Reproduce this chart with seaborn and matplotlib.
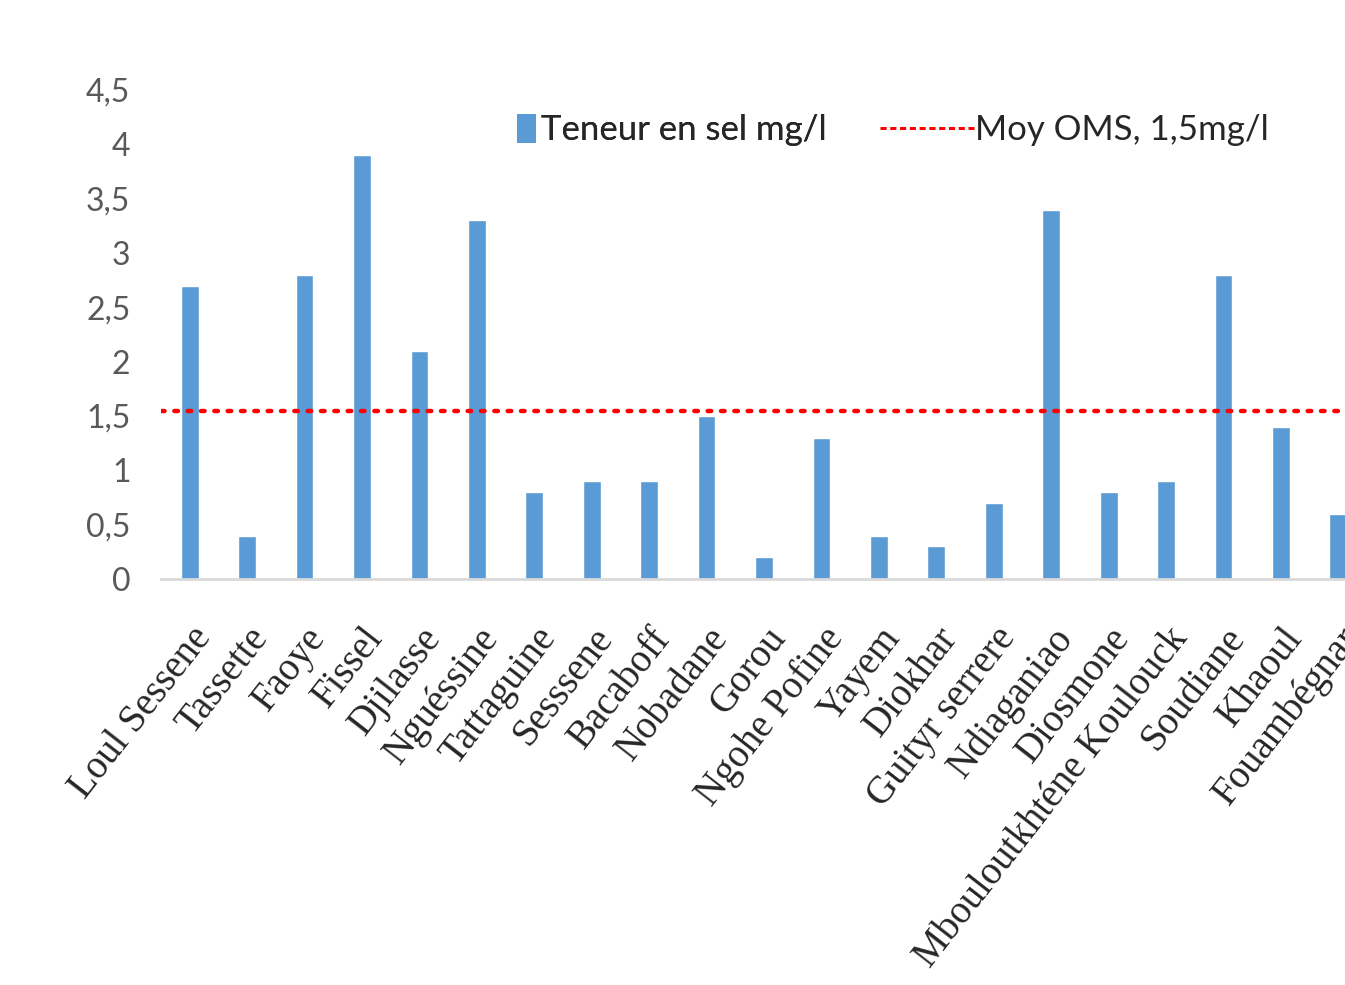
import matplotlib
matplotlib.use("Agg")
import matplotlib.pyplot as plt
from matplotlib.lines import Line2D
from matplotlib.patches import Patch
import seaborn as sns
import pandas as pd

# Data
VILLAGES = [
    'Loul Sessene', 'Tassette', 'Faoye', 'Fissel', 'Djilasse', 'Nguéssine',
    'Tattaguine', 'Sesssene', 'Bacaboff', 'Nobadane', 'Gorou', 'Ngohe Pofine',
    'Yayem', 'Diokhar', 'Guityr serrere', 'Ndiaganiao', 'Diosmone',
    'Mbouloutkhténe Koulouck', 'Soudiane', 'Khaoul', 'Fouambégnar'
]
TENEUR = [2.7, 0.4, 2.8, 3.9, 2.1, 3.3, 0.8, 0.9, 0.9, 1.5, 0.2, 1.3,
          0.4, 0.3, 0.7, 3.4, 0.8, 0.9, 2.8, 1.4, 0.6]
OMS_LINE = 1.55
Y_TICKS = [0, 0.5, 1, 1.5, 2, 2.5, 3, 3.5, 4, 4.5]
Y_TICK_LABELS = ['0', '0,5', '1', '1,5', '2', '2,5', '3', '3,5', '4', '4,5']

BAR_COLOR = '#5B9BD5'
LINE_COLOR = '#FF0000'

sns.set_style('white')
plt.rcParams['font.family'] = ['Lato', 'DejaVu Sans']

df = pd.DataFrame({'Village': VILLAGES, 'Teneur': TENEUR})

fig = plt.figure(figsize=(13.45, 9.85), dpi=100)
ax = fig.add_axes([0.1197, 0.4122, 0.8967, 0.4964])

sns.barplot(data=df, x='Village', y='Teneur', color=BAR_COLOR,
            width=0.31, saturation=1, ax=ax)
ax.axhline(OMS_LINE, color=LINE_COLOR, linewidth=3.2,
           linestyle=(0, (0.8, 2.2)), dash_capstyle='round', zorder=3)

ax.set_xlim(-0.5, len(VILLAGES) - 0.5)
ax.set_ylim(0, 4.5)
ax.set_yticks(Y_TICKS)
ax.set_yticklabels(Y_TICK_LABELS, fontsize=23, color='#595959')
ax.set_xticks(range(len(VILLAGES)))
ax.set_xticklabels(VILLAGES, rotation=52, ha='right', rotation_mode='anchor',
                   family=['Liberation Serif', 'DejaVu Serif'], fontsize=28)
ax.tick_params(axis='y', length=0, pad=22)
ax.tick_params(axis='x', length=0, pad=30)
ax.set_xlabel('')
ax.set_ylabel('')

for side in ['top', 'right', 'left']:
    ax.spines[side].set_visible(False)
ax.spines['bottom'].set_color('#D9D9D9')
ax.spines['bottom'].set_linewidth(2)

# legend: two separate pieces so the dashed handle can be longer
leg_y = 1 - 130 / 985
leg1 = fig.legend([Patch(facecolor=BAR_COLOR, edgecolor='none')],
                  ['Teneur en sel mg/l'], loc='center left',
                  bbox_to_anchor=(0.361, leg_y), frameon=False, fontsize=25,
                  handlelength=0.55, handleheight=0.9, handletextpad=0.15)
fig.add_artist(leg1)
fig.legend([Line2D([0], [0], color=LINE_COLOR, linewidth=2.2,
                   linestyle=(0, (2, 1.2)))],
           ['Moy OMS, 1,5mg/l'], loc='center left',
           bbox_to_anchor=(0.631, leg_y), frameon=False, fontsize=25,
           handlelength=2.7, handletextpad=0.05)

fig.savefig('out.png', dpi=100)
